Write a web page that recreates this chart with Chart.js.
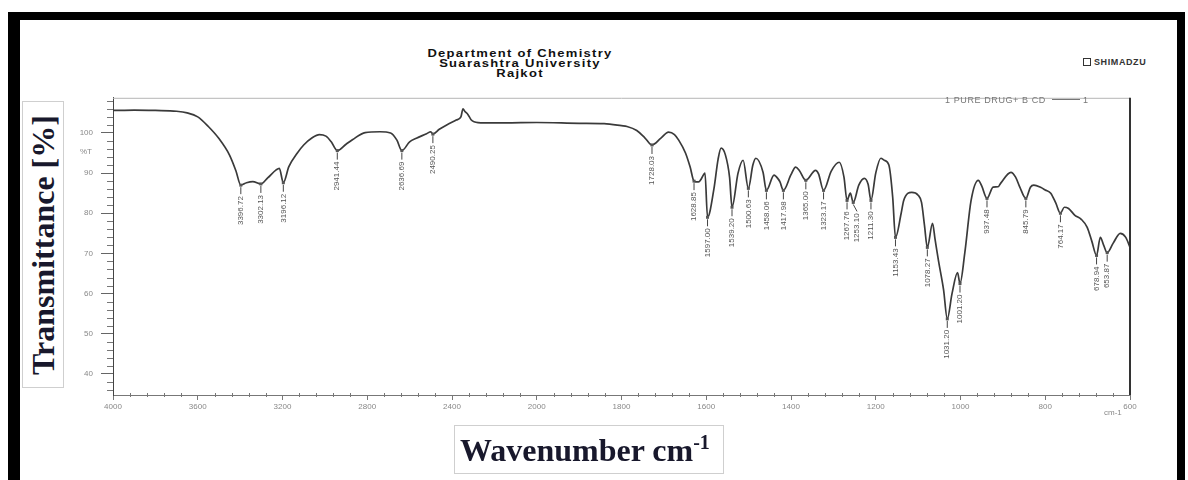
<!DOCTYPE html>
<html>
<head>
<meta charset="utf-8">
<title>IR spectrum</title>
<script src="https://cdn.jsdelivr.net/npm/chart.js@4.4.1/dist/chart.umd.min.js"></script>
<style>
  html, body { margin: 0; padding: 0; background: #fff; }
  body { width: 1188px; height: 480px; position: relative; overflow: hidden; font-family: "Liberation Sans", Arial, sans-serif; }
  #frame { position: absolute; left: 8px; top: 12px; width: 1157px; height: 540px;
           border-top: 8px solid #000; border-left: 12px solid #000; border-right: 8px solid #000; }
  #chart-wrap { position: absolute; left: 60px; top: 85px; width: 1100px; height: 345px; }
  .header { position: absolute; left: 520px; top: 49px; transform: translateX(-50%) scaleX(1.3);
            text-align: center; font: bold 10px/10px "Liberation Sans", Arial, sans-serif; letter-spacing: 1px;
            color: #111; white-space: nowrap; }
  .brand { position: absolute; left: 1083px; top: 57px; font: bold 9px "Liberation Sans", Arial, sans-serif;
           color: #333; letter-spacing: 0.6px; white-space: nowrap; }
  .brand i { display: inline-block; width: 6px; height: 6px; border: 1px solid #333; margin-right: 3px; vertical-align: -1px; }
  .legend { position: absolute; left: 945px; top: 95px; font: 9px "Liberation Sans", Arial, sans-serif; color: #777;
            letter-spacing: 0.6px; white-space: nowrap; }
  .legend span { display: inline-block; width: 28px; border-top: 1px solid #777; vertical-align: 3px; margin: 0 3px 0 6px; }
  .unit-t { position: absolute; left: 80px; top: 147px; font: 8px "Liberation Sans", Arial, sans-serif; color: #888; }
  .unit-x { position: absolute; left: 1104px; top: 408px; font: 8px "Liberation Sans", Arial, sans-serif; color: #888; }
  .ytitle { position: absolute; left: 22px; top: 101px; width: 40px; height: 285px; border: 1px solid #cfcfcf; }
  .ytitle div { position: absolute; left: 50%; top: 50%; transform: translate(-50%, -50%) rotate(-90deg);
                font: bold 32px "Liberation Serif", "Times New Roman", serif; color: #18182c; white-space: nowrap; }
  .xtitle { position: absolute; left: 454px; top: 425px; width: 270px; height: 49px; border: 1px solid #cfcfcf;
            font: bold 32px/49px "Liberation Serif", "Times New Roman", serif; color: #18182c; white-space: nowrap; padding-left: 5px; box-sizing: border-box; }
  .xtitle sup { font-size: 20px; vertical-align: 12px; line-height: 0; }
</style>
</head>
<body>
<div id="frame"></div>
<div class="header">Department of Chemistry<br>Suarashtra University<br>Rajkot</div>
<div class="brand"><i></i>SHIMADZU</div>
<div class="ytitle"><div>Transmittance [%]</div></div>
<div id="chart-wrap"><canvas id="ir-chart"></canvas></div>
<div class="legend">1 PURE DRUG+ B CD<span></span>1</div>
<div class="unit-t">%T</div>
<div class="unit-x">cm-1</div>
<div class="xtitle">Wavenumber cm<sup>-1</sup></div>

<script>
// spectrum (wavenumber in cm-1, transmittance in %)
const wavenumbers = [
  4000, 3900, 3800, 3700, 3650, 3600, 3550, 3500, 3450, 3420,
  3396.72, 3370, 3340, 3302.13, 3270, 3230, 3215, 3196.12, 3170, 3130,
  3100, 3060, 3026, 2995, 2970, 2941.44, 2900, 2870, 2810, 2740,
  2690, 2660, 2636.69, 2600, 2568, 2520, 2500, 2490.25, 2460, 2425,
  2380, 2358, 2348, 2340, 2325, 2310, 2296, 2250, 2150, 2000,
  1900, 1841, 1800, 1787, 1764, 1745, 1728.03, 1707, 1689, 1675,
  1665, 1649, 1638, 1628.85, 1618, 1612, 1603, 1597.00, 1582, 1572,
  1565, 1555, 1545, 1539.20, 1525, 1513, 1500.63, 1490, 1483, 1466,
  1458.06, 1440, 1430, 1426, 1417.98, 1400, 1389, 1380, 1365.00, 1342,
  1335, 1323.17, 1305, 1286, 1275, 1267.76, 1260, 1253.10, 1240, 1227,
  1218, 1211.30, 1200, 1188, 1180, 1169, 1160, 1153.43, 1140, 1134,
  1115, 1100, 1092, 1085, 1078.27, 1066, 1060, 1052, 1040, 1031.20,
  1020, 1007, 1001.20, 990, 975, 958, 950, 937.48, 923, 911,
  905, 881, 870, 860, 845.79, 835, 827, 810, 800, 787,
  775, 764.17, 755, 745, 730, 715, 701, 690, 678.94, 670,
  662, 653.87, 640, 623, 610, 600,
];
const transmittance = [
  105.6, 105.7, 105.6, 105.4, 105.0, 104.0, 101.6, 98.6, 94.5, 90.6,
  87.0, 87.6, 87.9, 87.3, 88.8, 90.8, 91.2, 87.6, 91.6, 95.0,
  97.0, 98.8, 99.6, 99.2, 97.8, 95.6, 97.2, 98.3, 100.1, 100.3,
  100.0, 98.2, 95.6, 97.8, 98.7, 99.8, 100.3, 99.7, 100.9, 102.0,
  103.2, 104.0, 106.0, 105.4, 104.6, 103.3, 102.8, 102.5, 102.5, 102.6,
  102.4, 102.3, 101.8, 101.6, 100.6, 98.8, 97.0, 98.7, 100.2, 99.6,
  98.2, 95.0, 91.5, 88.0, 87.8, 88.5, 90.0, 79.0, 86.0, 93.5,
  96.2, 94.6, 89.0, 81.5, 90.0, 93.2, 86.2, 92.0, 93.7, 90.2,
  85.7, 89.5, 88.5, 87.8, 85.7, 89.6, 91.5, 90.6, 88.2, 90.7,
  89.8, 85.7, 90.5, 92.7, 89.0, 83.2, 85.0, 82.7, 87.0, 88.7,
  87.2, 83.2, 90.0, 93.7, 93.2, 92.0, 84.0, 74.0, 80.0, 83.2,
  85.2, 84.5, 82.7, 77.0, 71.5, 77.5, 73.5, 68.2, 61.0, 53.7,
  60.0, 65.2, 62.5, 70.0, 83.2, 88.2, 86.8, 83.7, 86.5, 86.6,
  87.5, 90.2, 89.0, 86.5, 83.7, 86.5, 87.0, 86.4, 85.8, 85.0,
  82.5, 80.0, 81.5, 81.2, 79.5, 78.5, 76.5, 73.0, 69.5, 74.0,
  72.0, 70.2, 72.5, 75.0, 74.0, 71.5,
];

// labelled absorption peaks
const peakWavenumbers = [
  3396.72, 3302.13, 3196.12, 2941.44, 2636.69, 2490.25,
  1728.03, 1628.85, 1597.00, 1539.20, 1500.63, 1458.06, 1417.98, 1365.00,
  1323.17, 1267.76, 1253.10, 1211.30, 1153.43, 1078.27, 1031.20, 1001.20,
  937.48, 845.79, 764.17, 678.94, 653.87,
];

const xTickValues = [4000, 3600, 3200, 2800, 2400, 2000, 1800, 1600, 1400, 1200, 1000, 800, 600];
const yTickValues = [40, 50, 60, 70, 80, 90, 100];

// the instrument draws 4000-2000 at half the scale of 2000-600
function toAxis(wn) {
  return wn > 2000 ? 2000 + (wn - 2000) / 2 : wn;
}

const points = wavenumbers.map((wn, i) => ({ x: toAxis(wn), y: transmittance[i] }));

// frame, minor ticks and peak labels
const spectrumExtras = {
  id: 'spectrumExtras',
  afterDraw(chart) {
    const { ctx, chartArea: a, scales: { x, y } } = chart;
    ctx.save();

    ctx.lineWidth = 1;
    ctx.strokeStyle = '#b5b5b5';
    ctx.beginPath();
    ctx.moveTo(a.left, a.top + 0.5);
    ctx.lineTo(a.right, a.top + 0.5);
    ctx.stroke();
    ctx.strokeStyle = '#333';
    ctx.lineWidth = 2;
    ctx.beginPath();
    ctx.moveTo(a.right, a.top);
    ctx.lineTo(a.right, a.bottom);
    ctx.stroke();

    // minor ticks
    ctx.lineWidth = 1;
    ctx.strokeStyle = '#777';
    for (let v = 36; v <= 108; v += 2) {
      if (v % 10 === 0) continue;
      const py = Math.round(y.getPixelForValue(v)) + 0.5;
      ctx.beginPath();
      ctx.moveTo(a.left - 6, py);
      ctx.lineTo(a.left, py);
      ctx.stroke();
    }
    for (let u = 640; u < 3000; u += 40) {
      if (u % 200 === 0) continue;
      const px = Math.round(x.getPixelForValue(u)) + 0.5;
      ctx.beginPath();
      ctx.moveTo(px, a.bottom - 2);
      ctx.lineTo(px, a.bottom + 2);
      ctx.stroke();
    }

    // peak labels, pushed apart when they crowd
    ctx.font = '8px "Liberation Sans", Arial, sans-serif';
    ctx.fillStyle = '#555';
    ctx.strokeStyle = '#444';
    ctx.textAlign = 'right';
    ctx.textBaseline = 'middle';
    let lastX = -100;
    peakWavenumbers.forEach((wn) => {
      const t = transmittance[wavenumbers.indexOf(wn)];
      const px = x.getPixelForValue(toAxis(wn));
      const py = y.getPixelForValue(t);
      const lx = Math.max(px, lastX + 10);
      lastX = lx;
      ctx.fillRect(px - 1.5, py - 1.5, 3, 3);
      ctx.beginPath();
      ctx.moveTo(px, py + 2);
      ctx.lineTo(lx, py + 9);
      ctx.stroke();
      ctx.save();
      ctx.translate(lx, py + 11);
      ctx.rotate(-Math.PI / 2);
      ctx.fillText(wn.toFixed(2), 0, 0);
      ctx.restore();
    });

    ctx.restore();
  },
};

new Chart(document.getElementById('ir-chart'), {
  type: 'line',
  data: {
    datasets: [{
      data: points,
      borderColor: '#3a3a3a',
      borderWidth: 1.7,
      pointRadius: 0,
      cubicInterpolationMode: 'monotone',
    }],
  },
  options: {
    responsive: true,
    maintainAspectRatio: false,
    animation: false,
    layout: { padding: { top: 12, right: 30, left: 0, bottom: 0 } },
    plugins: {
      legend: { display: false },
      tooltip: { enabled: false },
    },
    scales: {
      x: {
        type: 'linear',
        reverse: true,
        min: 600,
        max: 3000,
        afterBuildTicks: (s) => { s.ticks = xTickValues.map((v) => ({ value: toAxis(v) })); },
        afterFit: (s) => { s.height = 35; },
        ticks: {
          callback: (v, i) => String(xTickValues[i]),
          color: '#888',
          font: { size: 8 },
          maxRotation: 0,
          autoSkip: false,
          padding: 2,
        },
        grid: { drawOnChartArea: false, tickLength: 5, color: '#777' },
        border: { color: '#777', width: 1 },
      },
      y: {
        min: 34.75,
        max: 108.75,
        afterBuildTicks: (s) => { s.ticks = yTickValues.map((v) => ({ value: v })); },
        afterFit: (s) => { s.width = 53; },
        ticks: { color: '#888', font: { size: 8 }, padding: 8 },
        grid: { drawOnChartArea: false, tickLength: 12, color: '#666' },
        border: { color: '#444', width: 1 },
      },
    },
  },
  plugins: [spectrumExtras],
});
</script>
</body>
</html>
